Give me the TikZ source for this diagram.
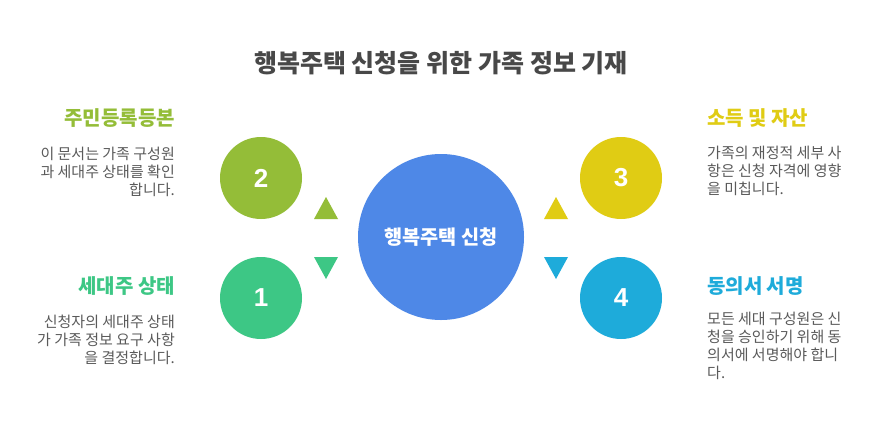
\documentclass[tikz,border=0pt]{standalone}
\usepackage{fontspec}
\setmainfont{Noto Sans CJK KR}
\newfontfamily\numfont{Liberation Sans}
\definecolor{titlegray}{HTML}{484848}
\definecolor{bodygray}{HTML}{5A5A5A}
\definecolor{stepgreen}{HTML}{94BD38}
\definecolor{stepmint}{HTML}{3DC785}
\definecolor{stepyellow}{HTML}{E0CC14}
\definecolor{stepblue}{HTML}{1EABDA}
\definecolor{hubblue}{HTML}{4E88E7}
\tikzset{
  smallcircle/.style={circle, minimum size=82pt, inner sep=0pt, text=white, font=\numfont\fontsize{26}{26}\selectfont\bfseries},
  bigcircle/.style={circle, minimum size=166pt, inner sep=0pt, fill=hubblue, text=white, font=\fontsize{19.7}{22}\selectfont\bfseries},
  headleft/.style={anchor=east, inner sep=0pt, font=\fontsize{20}{22}\selectfont\bfseries},
  headright/.style={anchor=west, inner sep=0pt, font=\fontsize{20}{22}\selectfont\bfseries},
  bodyleft/.style={anchor=north east, align=right, inner sep=0pt, text=bodygray, font=\fontsize{15}{18}\selectfont},
  bodyright/.style={anchor=north west, align=left, inner sep=0pt, text=bodygray, font=\fontsize{15}{18}\selectfont}
}
\begin{document}
\begin{tikzpicture}[x=1pt, y=-1pt]
  \useasboundingbox (0,0) rectangle (880,426);
  \fill[white] (0,0) rectangle (880,426);

  % Title
  \node[text=titlegray, font=\fontsize{25}{28}\selectfont\bfseries] (title) at (441,63) {행복주택 신청을 위한 가족 정보 기재};

  % Center and numbered circles
  \node[bigcircle] (hub) at (441,237) {행복주택 신청};
  \node[smallcircle, fill=stepgreen] (two) at (261,178) {2};
  \node[smallcircle, fill=stepmint] (one) at (261,298) {1};
  \node[smallcircle, fill=stepyellow] (three) at (621,178) {3};
  \node[smallcircle, fill=stepblue] (four) at (621,298) {4};

  % Small triangles
  \fill[stepgreen] (314,219) -- (338,219) -- (326,197) -- cycle;
  \fill[stepmint] (314,257) -- (338,257) -- (326,279) -- cycle;
  \fill[stepyellow] (544,219) -- (568,219) -- (556,197) -- cycle;
  \fill[stepblue] (544,257) -- (568,257) -- (556,279) -- cycle;

  % Left side labels
  \node[headleft, text=stepgreen] (resident) at (175,118) {주민등록등본};
  \node[bodyleft] (residenttext) at (175,147) {이 문서는 가족 구성원\\과 세대주 상태를 확인\\합니다.};
  \node[headleft, text=stepmint] (head) at (175,286) {세대주 상태};
  \node[bodyleft] (headtext) at (175,314.5) {신청자의 세대주 상태\\가 가족 정보 요구 사항\\을 결정합니다.};

  % Right side labels
  \node[headright, text=stepyellow] (income) at (707,118) {소득 및 자산};
  \node[bodyright] (incometext) at (707,146) {가족의 재정적 세부 사\\항은 신청 자격에 영향\\을 미칩니다.};
  \node[headright, text=stepblue] (consent) at (707,286) {동의서 서명};
  \node[bodyright] (consenttext) at (707,312) {모든 세대 구성원은 신\\청을 승인하기 위해 동\\의서에 서명해야 합니\\다.};
\end{tikzpicture}
\end{document}
